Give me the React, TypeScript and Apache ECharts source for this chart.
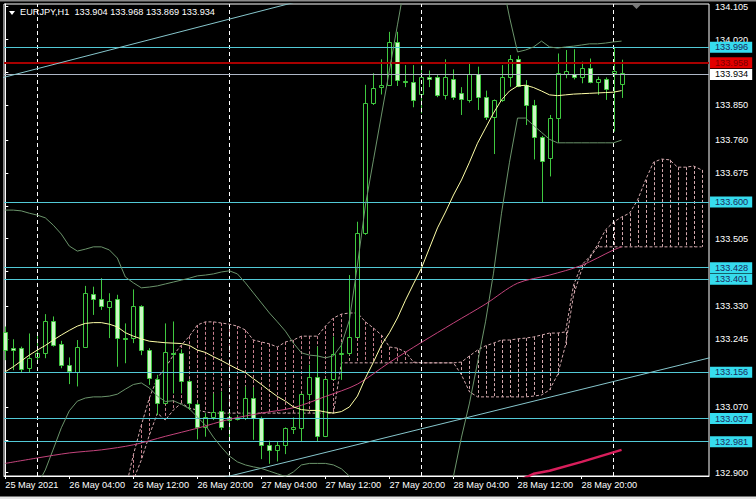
import React, { useEffect, useRef } from 'react';
import * as echarts from 'echarts';

// ---------- data ----------
const symbolTitle = 'EURJPY,H1\u00a0\u00a0133.904 133.968 133.869 133.934';

const opens = [133.265,133.222,133.222,133.170,133.198,133.209,133.291,133.233,133.178,133.161,133.226,133.361,133.348,133.328,133.348,133.249,133.248,133.331,133.217,133.141,133.081,133.210,133.209,133.138,133.078,133.019,133.045,133.060,133.036,133.040,133.041,133.092,133.041,132.972,132.959,132.972,133.014,133.015,133.103,133.148,132.995,133.141,133.207,133.209,133.252,133.519,133.857,133.898,133.903,134.015,133.914,133.909,133.879,133.924,133.922,133.876,133.918,133.881,133.865,133.931,133.871,133.821,133.864,133.922,133.971,133.903,133.851,133.767,133.713,133.816,133.932,133.931,133.922,133.946,133.910,133.917,133.934,133.904];
const highs = [133.278,133.245,133.226,133.260,133.256,133.310,133.304,133.241,133.198,133.243,133.383,133.381,133.403,133.364,133.360,133.286,133.374,133.333,133.222,133.153,133.286,133.291,133.219,133.141,133.081,133.054,133.105,133.110,133.062,133.049,133.123,133.121,133.045,132.983,132.980,133.017,133.043,133.105,133.179,133.226,133.144,133.252,133.236,133.411,133.549,133.903,133.933,133.969,134.040,134.040,133.954,133.954,133.954,133.940,133.928,133.969,133.943,133.897,133.959,133.950,133.888,133.865,133.954,133.980,133.978,133.915,133.864,133.771,133.825,133.984,133.993,133.995,133.963,133.971,133.924,133.922,134.001,133.968];
const lows = [133.191,133.165,133.159,133.159,133.187,133.196,133.226,133.170,133.129,133.123,133.224,133.308,133.321,133.248,133.174,133.183,133.235,133.204,133.127,133.049,133.078,133.105,133.105,133.062,132.986,132.993,133.036,133.010,132.985,133.035,133.036,132.985,132.935,132.923,132.929,132.948,133.000,132.980,133.088,132.980,132.992,133.140,133.140,133.204,133.250,133.515,133.851,133.878,133.900,133.900,133.897,133.845,133.829,133.897,133.871,133.865,133.864,133.825,133.857,133.838,133.812,133.724,133.859,133.898,133.897,133.799,133.710,133.598,133.666,133.753,133.920,133.917,133.907,133.907,133.877,133.864,133.782,133.869];
const closes = [133.217,133.216,133.168,133.196,133.210,133.292,133.230,133.178,133.163,133.226,133.364,133.348,133.331,133.345,133.248,133.247,133.331,133.217,133.144,133.081,133.213,133.206,133.138,133.081,133.019,133.043,133.058,133.017,133.043,133.041,133.092,133.041,132.972,132.959,132.972,133.015,133.018,133.103,133.148,132.995,133.141,133.207,133.210,133.252,133.519,133.855,133.894,133.902,134.015,133.915,133.911,133.865,133.924,133.919,133.876,133.922,133.871,133.866,133.931,133.871,133.821,133.864,133.922,133.971,133.900,133.851,133.769,133.707,133.816,133.934,133.939,133.922,133.947,133.911,133.917,133.891,133.938,133.934];

const maYellow = [133.161,133.174,133.189,133.204,133.217,133.229,133.243,133.256,133.268,133.279,133.286,133.288,133.288,133.284,133.277,133.262,133.253,133.246,133.240,133.238,133.236,133.235,133.234,133.229,133.217,133.211,133.200,133.190,133.179,133.168,133.159,133.143,133.128,133.112,133.097,133.085,133.070,133.063,133.061,133.061,133.057,133.054,133.058,133.070,133.098,133.145,133.186,133.230,133.262,133.300,133.346,133.388,133.429,133.481,133.533,133.574,133.618,133.657,133.703,133.752,133.791,133.830,133.864,133.887,133.900,133.902,133.896,133.887,133.877,133.875,133.877,133.879,133.880,133.881,133.882,133.883,133.884,133.888];
const bandUpper = [133.579,133.579,133.577,133.571,133.566,133.559,133.540,133.517,133.486,133.473,133.478,133.484,133.484,133.476,133.455,133.406,133.391,133.378,133.380,133.383,133.388,133.393,133.398,133.403,133.409,133.411,133.414,133.419,133.422,133.414,133.391,133.365,133.339,133.313,133.290,133.266,133.235,133.210,133.204,133.202,133.197,133.202,133.230,133.295,133.437,133.592,133.709,133.825,133.941,134.058,134.174,134.220,134.260,134.300,134.330,134.350,134.370,134.380,134.380,134.370,134.340,134.280,134.179,134.078,133.988,133.993,134.001,134.016,134.001,133.998,134.001,134.003,134.006,134.009,134.009,134.011,134.014,134.016];
const bandLower = [132.743,132.769,132.801,132.837,132.868,132.907,132.961,133.016,133.060,133.085,133.093,133.096,133.096,133.098,133.103,133.116,133.128,133.132,133.119,133.098,133.084,133.086,133.077,133.065,133.044,133.023,132.992,132.966,132.943,132.928,132.920,132.915,132.911,132.904,132.897,132.890,132.902,132.920,132.924,132.924,132.924,132.920,132.910,132.891,132.759,132.700,132.660,132.630,132.570,132.500,132.450,132.450,132.500,132.580,132.660,132.760,132.891,132.992,133.080,133.184,133.290,133.416,133.571,133.703,133.817,133.817,133.798,133.780,133.762,133.753,133.753,133.753,133.753,133.753,133.753,133.753,133.753,133.760];

const pinkMaBars = [0,4,8,12,16,20,24,28,32,36,40,44,48,52,56,60,64,68,72,76,77];
const pinkMaValues = [132.924,132.938,132.951,132.959,132.972,132.994,133.015,133.038,133.054,133.068,133.097,133.129,133.185,133.237,133.287,133.336,133.390,133.411,133.436,133.476,133.484];

const crimsonBars = [60,64,66,68,72,77];
const crimsonValues = [132.860,132.878,132.897,132.905,132.928,132.959];

const cloudFirstBar = 15;
const cloudTop = [132.855,132.946,133.023,133.093,133.145,133.171,133.204,133.230,133.253,133.282,133.290,133.290,133.287,133.284,133.279,133.269,133.243,133.238,133.233,133.225,133.238,133.243,133.253,133.253,133.253,133.279,133.300,133.310,133.313,133.313,133.290,133.274,133.256,133.225,133.222,133.212,133.186,133.184,133.184,133.184,133.184,133.184,133.186,133.202,133.217,133.228,133.235,133.243,133.243,133.246,133.248,133.251,133.256,133.261,133.261,133.264,133.385,133.437,133.458,133.489,133.528,133.548,133.561,133.571,133.605,133.657,133.703,133.711,133.709,133.690,133.690,133.693,133.683];
const cloudBottom = [132.829,132.881,132.933,132.997,133.054,133.036,133.062,133.080,133.067,133.062,133.057,133.054,133.054,133.054,133.054,133.054,133.054,133.054,133.054,133.054,133.054,133.054,133.054,133.054,133.054,133.054,133.054,133.184,133.184,133.184,133.184,133.184,133.184,133.184,133.184,133.184,133.184,133.184,133.184,133.184,133.184,133.184,133.153,133.109,133.096,133.096,133.096,133.096,133.096,133.096,133.096,133.098,133.101,133.114,133.153,133.230,133.359,133.424,133.455,133.484,133.484,133.484,133.484,133.484,133.484,133.484,133.484,133.484,133.484,133.484,133.484,133.484,133.484];

const trendUpper = [[-1, 133.918], [40, 134.137]];
const trendLower = [[27, 132.886], [88, 133.197]];

const cyanLevels = [133.996, 133.600, 133.428, 133.401, 133.156, 133.037, 132.981];
const redLevel = 133.958;
const bidLevel = 133.934;

const daySeparators = [4, 28, 52, 76];
const xTickBars = [0, 8, 16, 24, 32, 40, 48, 56, 64, 72];
const xTickLabels = ['25 May 2021','26 May 04:00','26 May 12:00','26 May 20:00','27 May 04:00','27 May 12:00','27 May 20:00','28 May 04:00','28 May 12:00','28 May 20:00'];
const yLabelValues = [134.105, 134.020, 133.850, 133.760, 133.675, 133.505, 133.330, 133.245, 133.070, 132.900];
const yTickValues = [134.105, 134.020, 133.935, 133.850, 133.760, 133.675, 133.590, 133.505, 133.420, 133.330, 133.245, 133.160, 133.070, 132.985, 132.900];

// ---------- styles ----------
const FONT = 'Liberation Sans';
const FS = 9.2;
const GREEN = '#3fc83f';
const BEAR_FILL = '#cdf7c6';
const CYAN = '#52c9d6';
const CYAN_BOX = '#36dcee';
const CLOUD_A = '#c8808f';
const CLOUD_B = '#d4a9ae';
const CLOUD_SWITCH_BAR = 52;

export default function App() {
  const ref = useRef<HTMLDivElement>(null);

  useEffect(() => {
    document.body.style.margin = '0';
    const chart = echarts.init(ref.current!, null, { renderer: 'svg' });

    const candleData = opens.map((o, i) => [i, o, highs[i], lows[i], closes[i]]);
    const cloudData = cloudTop.map((t, k) => [cloudFirstBar + k, t, cloudBottom[k]]);
    const pair = (vals: number[], start = 0) => vals.map((v, k) => [start + k, v]);

    const levelLabel = (bg: string, fg: string) => ({
      show: true,
      position: 'end',
      distance: 1,
      formatter: '{b}',
      backgroundColor: bg,
      color: fg,
      fontFamily: FONT,
      fontSize: FS,
      lineHeight: 11,
      padding: [0, 4, 0, 5],
    });

    const option: any = {
      animation: false,
      backgroundColor: '#000000',
      title: {
        text: symbolTitle,
        left: 20,
        top: 7,
        padding: 0,
        textStyle: { color: '#ffffff', fontFamily: FONT, fontSize: FS, fontWeight: 'normal' },
      },
      grid: {
        left: 4, right: 47, top: 4, bottom: 23,
        show: true, borderColor: '#ffffff', borderWidth: 1, backgroundColor: '#000000',
      },
      xAxis: {
        type: 'value',
        min: -0.1625,
        max: 87.925,
        splitLine: { show: false },
        axisLine: { show: true, lineStyle: { color: '#ffffff' } },
        axisTick: { show: true, customValues: xTickBars, length: 3, lineStyle: { color: '#ffffff' } },
        axisLabel: {
          show: true,
          customValues: xTickBars,
          formatter: (v: number) => xTickLabels[xTickBars.indexOf(Math.round(v))] ?? '',
          align: 'left',
          margin: 4,
          color: '#ffffff',
          fontFamily: FONT,
          fontSize: FS,
        },
      },
      yAxis: {
        type: 'value',
        position: 'right',
        min: 132.8914,
        max: 134.112,
        splitLine: { show: false },
        axisLine: { show: true, lineStyle: { color: '#ffffff' } },
        axisTick: { show: true, customValues: yTickValues, length: 3, lineStyle: { color: '#ffffff' } },
        axisLabel: {
          show: true,
          customValues: yLabelValues,
          formatter: (v: number) => v.toFixed(3),
          margin: 6,
          color: '#ffffff',
          fontFamily: FONT,
          fontSize: FS,
        },
      },
      graphic: [
        { type: 'rect', shape: { x: 0, y: 0, width: 756, height: 1.5 }, style: { fill: '#8a8a8a' }, silent: true },
        { type: 'rect', shape: { x: 0, y: 496.5, width: 756, height: 3 }, style: { fill: '#e4e4e4' }, silent: true },
        { type: 'polygon', shape: { points: [[9, 11], [15, 11], [12, 15]] }, style: { fill: '#ffffff' }, silent: true },
        { type: 'polygon', shape: { points: [[632, 4.5], [641, 4.5], [636.5, 9]] }, style: { fill: '#7a7a7a' }, silent: true },
      ],
      series: [
        {
          name: 'cloud',
          type: 'custom',
          z: 1,
          data: cloudData,
          encode: { x: 0, y: [1, 2] },
          renderItem: (params: any, api: any) => {
            const bar = api.value(0);
            const p1 = api.coord([bar, api.value(1)]);
            const p2 = api.coord([bar, api.value(2)]);
            const cs = params.coordSys;
            const clampY = (y: number) => Math.max(cs.y, Math.min(cs.y + cs.height, y));
            const x = Math.round(p1[0]) + 0.5;
            return {
              type: 'line',
              shape: { x1: x, y1: clampY(p1[1]), x2: x, y2: clampY(p2[1]) },
              style: { stroke: bar < CLOUD_SWITCH_BAR ? CLOUD_A : CLOUD_B, lineWidth: 1, lineDash: [3, 2] },
            };
          },
        },
        {
          name: 'spanTop', type: 'line', z: 2, data: pair(cloudTop, cloudFirstBar), symbol: 'none',
          lineStyle: { color: CLOUD_B, width: 1, type: [3, 2] },
        },
        {
          name: 'spanBottom', type: 'line', z: 2, data: pair(cloudBottom, cloudFirstBar), symbol: 'none',
          lineStyle: { color: CLOUD_B, width: 1, type: [3, 2] },
        },
        {
          name: 'candles',
          type: 'custom',
          z: 3,
          data: candleData,
          encode: { x: 0, y: [1, 2, 3, 4] },
          renderItem: (params: any, api: any) => {
            const bar = api.value(0);
            const o = api.value(1), h = api.value(2), l = api.value(3), c = api.value(4);
            const pO = api.coord([bar, o]);
            const yC = api.coord([bar, c])[1];
            const yH = api.coord([bar, h])[1];
            const yL = api.coord([bar, l])[1];
            const cx = Math.round(pO[0]) + 0.5;
            const top = Math.round(Math.min(pO[1], yC)) + 0.5;
            const bot = Math.round(Math.max(pO[1], yC)) + 0.5;
            const bull = c >= o;
            return {
              type: 'group',
              children: [
                { type: 'line', shape: { x1: cx, y1: yH, x2: cx, y2: yL }, style: { stroke: GREEN, lineWidth: 1 } },
                {
                  type: 'rect',
                  shape: { x: cx - 2, y: top, width: 4, height: Math.max(bot - top, 1) },
                  style: { fill: bull ? '#000000' : BEAR_FILL, stroke: GREEN, lineWidth: 1 },
                },
              ],
            };
          },
        },
        {
          name: 'separators', type: 'line', z: 4, data: [],
          markLine: {
            silent: true, symbol: ['none', 'none'],
            label: { show: false },
            lineStyle: { color: '#ffffff', width: 1, type: [4, 3] },
            data: daySeparators.map((b) => ({ xAxis: b })),
          },
        },
        {
          name: 'trendUpper', type: 'line', z: 5, data: trendUpper, symbol: 'none',
          lineStyle: { color: '#86c6cc', width: 1 },
        },
        {
          name: 'trendLower', type: 'line', z: 5, data: trendLower, symbol: 'none',
          lineStyle: { color: '#86c6cc', width: 1 },
        },
        {
          name: 'bandUpper', type: 'line', z: 6, data: pair(bandUpper), symbol: 'none',
          lineStyle: { color: '#6b946b', width: 1 },
        },
        {
          name: 'bandLower', type: 'line', z: 6, data: pair(bandLower), symbol: 'none',
          lineStyle: { color: '#6b946b', width: 1 },
        },
        {
          name: 'pinkMa', type: 'line', z: 6, data: pinkMaBars.map((b, k) => [b, pinkMaValues[k]]), symbol: 'none',
          smooth: 0.3, lineStyle: { color: '#c4447c', width: 1 },
        },
        {
          name: 'crimsonMa', type: 'line', z: 6, data: crimsonBars.map((b, k) => [b, crimsonValues[k]]), symbol: 'none',
          lineStyle: { color: '#d81e5b', width: 2.5 },
        },
        {
          name: 'maYellow', type: 'line', z: 7, data: pair(maYellow), symbol: 'none',
          lineStyle: { color: '#ffffa8', width: 1 },
        },
        {
          name: 'levels', type: 'line', z: 8, data: [],
          markLine: {
            silent: true, symbol: ['none', 'none'],
            data: [
              ...cyanLevels.map((v) => ({
                name: v.toFixed(3),
                yAxis: v,
                lineStyle: { color: CYAN, width: 1, type: 'solid' },
                label: levelLabel(CYAN_BOX, '#1b2a5c'),
              })),
              {
                name: redLevel.toFixed(3),
                yAxis: redLevel,
                lineStyle: { color: '#a80000', width: 2, type: 'solid' },
                label: levelLabel('#e20000', '#7a0000'),
              },
              {
                name: bidLevel.toFixed(3),
                yAxis: bidLevel,
                lineStyle: { color: '#aeb6c6', width: 1, type: 'solid' },
                label: levelLabel('#ffffff', '#000000'),
              },
            ],
          },
        },
      ],
    };

    chart.setOption(option);
    return () => chart.dispose();
  }, []);

  return <div ref={ref} style={{ width: 756, height: 499 }} />;
}
